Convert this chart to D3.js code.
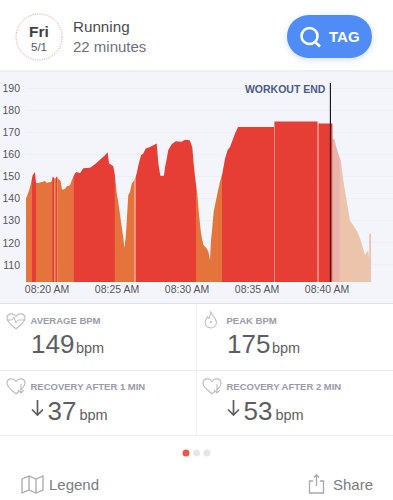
<!DOCTYPE html>
<html>
<head>
<meta charset="utf-8">
<style>
html, body { margin: 0; padding: 0; background: #fff; }
svg { display: block; font-family: "Liberation Sans", Arial, sans-serif; }
.tick text { font-size: 10.5px; fill: #55565c; }
.tick line, .domain { display: none; }
</style>
</head>
<body>
<div id="chart"></div>
<script src="https://cdn.jsdelivr.net/npm/d3@7"></script>
<script>
"use strict";

// minutes after 08:00, and heart rate at that minute
var sampleMinutes = [18.54, 18.63, 18.77, 18.89, 19.01, 19.18, 19.25, 19.41, 19.54, 19.89, 20.01, 20.37, 20.44, 20.61, 20.73, 20.84,
    21.01, 21.11, 21.32, 21.44, 21.68, 21.82, 22.04, 22.16, 22.39, 22.63, 23.11, 23.46, 23.82, 24.18, 24.37, 24.46, 24.77, 24.89,
    25.01, 25.18, 25.32, 25.49, 25.56, 25.66, 25.75, 25.84, 25.96, 26.09, 26.27, 26.44, 26.56, 26.75, 26.91, 27.09, 27.39, 27.87, 27.99,
    28.13, 28.39, 28.46, 28.59, 28.70, 28.94, 29.23, 29.66, 29.89, 30.23, 30.41, 30.51, 30.61, 30.77, 30.89, 31.04, 31.2, 31.44, 31.56,
    31.68, 31.75, 31.84, 31.94, 32.09, 32.23, 32.39, 32.56, 32.75, 32.94, 33.11, 33.46, 33.68, 36.25, 36.25, 39.37, 39.37, 40.44, 40.44,
    40.56, 40.7, 40.86, 41.02, 41.2, 41.39, 41.55, 41.68, 42.04, 42.2, 42.39, 42.58, 42.75, 42.98, 43.05, 43.05, 43.2];
var heartRate = [140, 141.5, 144, 147, 150.6, 152, 147, 147, 147.3, 148, 147, 147.7, 150, 149, 150, 149,
    148, 144, 144.5, 145.5, 146, 148.5, 151.5, 152, 151.5, 153.7, 154, 155.5, 157.6, 159.6, 161, 156, 154.7, 150.6,
    143, 136, 129.5, 122, 117.5, 122.7, 131.7, 141.5, 143, 146.8, 148.3, 151.3, 155, 159.6, 160.4, 162.7, 163.4, 165, 156,
    150.3, 150.3, 154, 158, 162, 164.6, 166, 165.8, 166.7, 166.4, 163.4, 156, 149.8, 142.3, 133, 124, 119, 117.4, 116,
    112, 121, 126.5, 134, 138.5, 143, 147.6, 151.3, 158, 162, 163.4, 169.4, 172.5, 172.5, 175, 175, 174, 174, 167,
    167, 163.4, 160, 157.4, 148.3, 140.8, 134.7, 130, 126.5, 125, 122, 118, 114.4, 116.7, 112, 124, 124];

// heart rate zones along the time axis
var zoneStart = [18.54, 18.97, 19.25, 20.4, 20.56, 20.68, 20.77, 21.91, 24.89, 26.29, 26.4, 30.68, 32.54, 36.25, 36.32, 39.37, 39.44, 40.44, 40.96, 43.1];
var zoneEnd = [18.97, 19.25, 20.4, 20.56, 20.68, 20.77, 21.91, 24.89, 26.29, 26.4, 30.68, 32.54, 36.25, 36.32, 39.37, 39.44, 40.44, 40.96, 43.1, 43.2];
var zoneName = ["cardio", "peak", "cardio", "peak", "cardio", "peak", "cardio", "peak", "cardio", "seam", "peak", "cardio", "peak", "seam", "peak", "seam", "peak",
    "afterPeak", "afterCardio", "afterEnd"];

var yTicks = [110, 120, 130, 140, 150, 160, 170, 180, 190];
var xTicks = [20, 25, 30, 35, 40];
var xTickLabels = ["08:20 AM", "08:25 AM", "08:30 AM", "08:35 AM", "08:40 AM"];
var workoutEnd = 40.28;

var statLabels = ["AVERAGE BPM", "PEAK BPM", "RECOVERY AFTER 1 MIN", "RECOVERY AFTER 2 MIN"];
var statValues = ["149", "175", "37", "53"];

var width = 393, height = 500;

var svg = d3.select("#chart").append("svg")
    .attr("width", width)
    .attr("height", height);

// scales
var x = d3.scaleLinear().domain([20, 40]).range([46.5, 326.5]);
var y = d3.scaleLinear().domain([110, 190]).range([264.7, 88.3]);
var baseline = 282;

var zoneColor = d3.scaleOrdinal()
    .domain(["cardio", "peak", "seam", "afterPeak", "afterCardio", "afterEnd"])
    .range(["#e5733c", "#e63d34", "#f2917a", "#e9b3ac", "#ecc3ab", "#e8c6c0"]);

// chart background
svg.append("rect").attr("x", 0).attr("y", 71).attr("width", width).attr("height", 233).attr("fill", "#f4f5fb");
svg.append("line").attr("x1", 0).attr("x2", width).attr("y1", 71).attr("y2", 71).attr("stroke", "#e3e3e8");
svg.append("line").attr("x1", 0).attr("x2", width).attr("y1", 303.5).attr("y2", 303.5).attr("stroke", "#dfdfe6");

// grid
svg.append("g").selectAll("line").data(yTicks).join("line")
    .attr("x1", 26).attr("x2", width)
    .attr("y1", function(d) { return y(d); })
    .attr("y2", function(d) { return y(d); })
    .attr("stroke", "#eeeff5");

// area, once per zone and clipped to it
var area = d3.area()
    .x(function(d) { return x(d[0]); })
    .y0(baseline)
    .y1(function(d) { return y(d[1]); });

var points = d3.zip(sampleMinutes, heartRate);
var defs = svg.append("defs");

zoneName.forEach(function(name, i) {
    defs.append("clipPath").attr("id", "zone" + i)
        .append("rect")
        .attr("x", x(zoneStart[i]))
        .attr("y", 70)
        .attr("width", x(zoneEnd[i]) - x(zoneStart[i]))
        .attr("height", 220);
    svg.append("path")
        .datum(points)
        .attr("d", area)
        .attr("fill", zoneColor(name))
        .attr("clip-path", "url(#zone" + i + ")");
});

// axes
svg.append("g")
    .attr("transform", "translate(22,0)")
    .call(d3.axisLeft(y).tickValues(yTicks).tickSize(0).tickPadding(2));

svg.append("g")
    .attr("transform", "translate(0," + 284 + ")")
    .call(d3.axisBottom(x).tickValues(xTicks).tickSize(0).tickPadding(2)
        .tickFormat(function(d, i) { return xTickLabels[i]; }));

// workout end marker
svg.append("line")
    .attr("x1", x(workoutEnd)).attr("x2", x(workoutEnd))
    .attr("y1", 83).attr("y2", baseline)
    .attr("stroke", "#1c1c20").attr("stroke-width", 1.2);

svg.append("text")
    .attr("x", x(workoutEnd) - 5).attr("y", 93)
    .attr("text-anchor", "end")
    .attr("font-size", 10.5).attr("font-weight", "bold")
    .attr("fill", "#4d5b82")
    .text("WORKOUT END");

// header
svg.append("circle").attr("cx", 39).attr("cy", 37).attr("r", 23)
    .attr("fill", "#fff").attr("stroke", "#d59a8e").attr("stroke-width", 1).attr("stroke-dasharray", "1 1.3");
svg.append("text").attr("x", 39).attr("y", 37).attr("text-anchor", "middle")
    .attr("font-size", 15.5).attr("font-weight", "bold").attr("fill", "#3f4045").text("Fri");
svg.append("text").attr("x", 39).attr("y", 51).attr("text-anchor", "middle")
    .attr("font-size", 11.5).attr("fill", "#55565c").text("5/1");
svg.append("text").attr("x", 73).attr("y", 31.5)
    .attr("font-size", 15.2).attr("fill", "#4a4b50").text("Running");
svg.append("text").attr("x", 73).attr("y", 52)
    .attr("font-size", 15).attr("fill", "#6f7076").text("22 minutes");

svg.append("rect").attr("x", 287).attr("y", 15).attr("width", 85).attr("height", 43).attr("rx", 21.5)
    .attr("fill", "#508cf5").style("filter", "drop-shadow(0 2px 3px rgba(80,120,200,0.25))");
svg.append("circle").attr("cx", 309.5).attr("cy", 36).attr("r", 8)
    .attr("fill", "none").attr("stroke", "#fff").attr("stroke-width", 2.6);
svg.append("line").attr("x1", 315).attr("y1", 42).attr("x2", 320).attr("y2", 46.5)
    .attr("stroke", "#fff").attr("stroke-width", 2.6);
svg.append("text").attr("x", 329).attr("y", 42)
    .attr("font-size", 15).attr("font-weight", "bold").attr("fill", "#fff").text("TAG");

// stat grid
[371, 436].forEach(function(ly) {
    svg.append("line").attr("x1", 0).attr("x2", width).attr("y1", ly - 0.5).attr("y2", ly - 0.5).attr("stroke", "#ececf0");
});
svg.append("line").attr("x1", 196.5).attr("x2", 196.5).attr("y1", 304).attr("y2", 436).attr("stroke", "#f1f1f4");

var heartPath = "M0 5 C0 -1 8 -2 11 3 C14 -2 22 -1 22 5 C22 11 14 15 11 18 C8 15 0 11 0 5 Z";

statLabels.forEach(function(label, i) {
    var cx = i % 2 ? 196 : 0;
    var cy = i < 2 ? 0 : 66;
    var recovery = i >= 2;

    svg.append("text").attr("x", cx + 30.5).attr("y", 323.5 + cy)
        .attr("font-size", 9.5).attr("font-weight", "bold").attr("fill", "#9a9aa8").text(label);

    // little icons
    if (i === 1) {
        svg.append("path")
            .attr("d", "M11 0 C12 4 18 7 18 13 C18 18 14 20 11 20 C7 20 4 17 4 13 C4 10 6 8 7 6 C8 8 9 8 9 8 C10 5 10 3 11 0 Z")
            .attr("transform", "translate(" + (cx + 6) + ",312) scale(0.8)")
            .attr("fill", "none").attr("stroke", "#bdbdc4").attr("stroke-width", 1.3);
        svg.append("circle").attr("cx", cx + 15).attr("cy", 322).attr("r", 1.1).attr("fill", "#bdbdc4");
    } else {
        svg.append("path").attr("d", heartPath)
            .attr("transform", "translate(" + (cx + 7) + "," + (314 + cy - (recovery ? 1 : 0)) + ") scale(0.82)")
            .attr("fill", "none").attr("stroke", "#bdbdc4").attr("stroke-width", 1.4);
        if (recovery) {
            svg.append("path")
                .attr("d", "M0 0 V9 M-3 6 L0 9 L3 6")
                .attr("transform", "translate(" + (cx + 21) + "," + (318 + cy) + ")")
                .attr("fill", "#fff").attr("stroke", "#bdbdc4").attr("stroke-width", 1.1);
        } else {
            svg.append("path").attr("d", "M8 320 H12 L14 317 L16 323 L18 320 H24")
                .attr("fill", "none").attr("stroke", "#bdbdc4").attr("stroke-width", 1);
        }
    }

    var t = svg.append("text")
        .attr("x", cx + (recovery ? 47.5 : 31))
        .attr("y", (recovery ? 420 : 353))
        .attr("fill", "#5d5e63");
    t.append("tspan").attr("font-size", 26).text(statValues[i]);
    t.append("tspan").attr("font-size", 14.5).attr("dx", recovery ? 3 : 1.5).text("bpm");

    if (recovery) {
        svg.append("path")
            .attr("d", "M0 0 V15 M-5.5 9.5 L0 15 L5.5 9.5")
            .attr("transform", "translate(" + (cx + 37.5) + "," + (334 + cy) + ")")
            .attr("fill", "none").attr("stroke", "#5d5e63").attr("stroke-width", 1.7);
    }
});

// page dots
svg.append("g").selectAll("circle").data([0, 1, 2]).join("circle")
    .attr("cx", function(d) { return 186 + d * 10.5; })
    .attr("cy", 453)
    .attr("r", 3.5)
    .attr("fill", function(d) { return d === 0 ? "#e8594c" : "#e6e6ea"; });

// footer
svg.append("path")
    .attr("d", "M22 479 L29 476 L36 479 L43 476 V490 L36 493 L29 490 L22 493 Z M29 476 V490 M36 479 V493")
    .attr("fill", "none").attr("stroke", "#a9a9ae").attr("stroke-width", 1.3);
svg.append("text").attr("x", 49).attr("y", 490)
    .attr("font-size", 15).attr("fill", "#7b7c81").text("Legend");

svg.append("path")
    .attr("d", "M313 481 H309.5 V493 H323.5 V481 H320 M316.5 486 V475 M313.8 477.5 L316.5 475 L319.2 477.5")
    .attr("fill", "none").attr("stroke", "#a9a9ae").attr("stroke-width", 1.3);
svg.append("text").attr("x", 333).attr("y", 490)
    .attr("font-size", 15).attr("fill", "#7b7c81").text("Share");
</script>
</body>
</html>
